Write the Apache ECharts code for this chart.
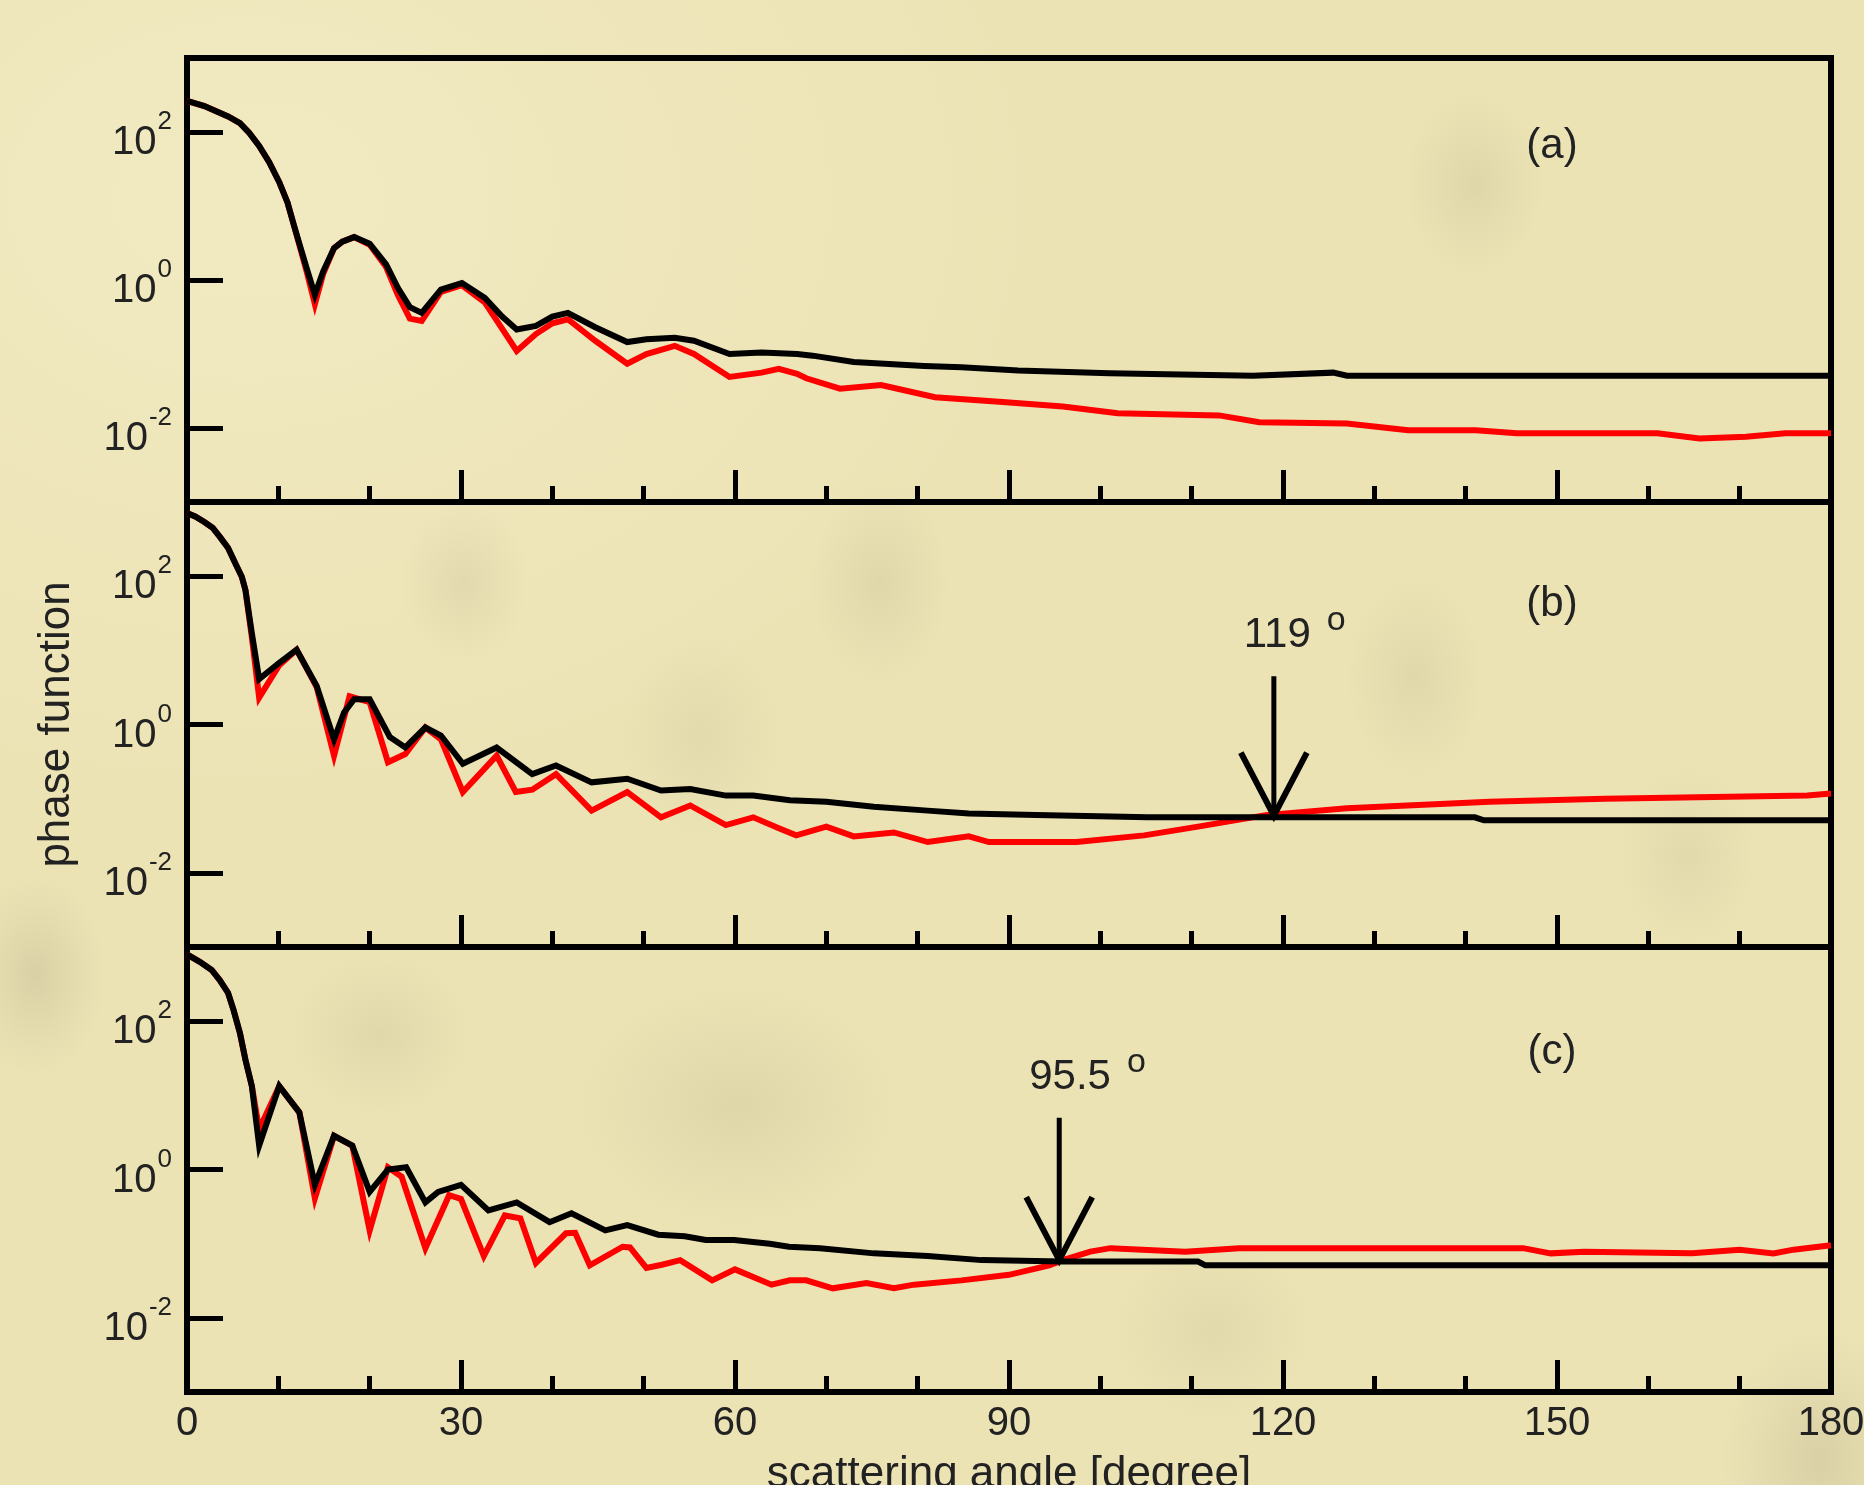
<!DOCTYPE html>
<html>
<head>
<meta charset="utf-8">
<script src="https://cdn.jsdelivr.net/npm/echarts@6/dist/echarts.min.js"></script>
<style>
html,body{margin:0;padding:0;overflow:hidden;}
#chart{
  width:1864px;height:1485px;
  background:
    radial-gradient(ellipse 70px 90px at 1474px 184px, rgba(160,155,115,0.18), rgba(160,155,115,0) 100%),
    radial-gradient(ellipse 70px 100px at 880px 583px, rgba(160,155,115,0.17), rgba(160,155,115,0) 100%),
    radial-gradient(ellipse 65px 80px at 464px 583px, rgba(160,155,115,0.15), rgba(160,155,115,0) 100%),
    radial-gradient(ellipse 80px 100px at 701px 737px, rgba(160,155,115,0.13), rgba(160,155,115,0) 100%),
    radial-gradient(ellipse 70px 100px at 1415px 678px, rgba(160,155,115,0.16), rgba(160,155,115,0) 100%),
    radial-gradient(ellipse 70px 90px at 1688px 856px, rgba(160,155,115,0.14), rgba(160,155,115,0) 100%),
    radial-gradient(ellipse 70px 100px at 36px 975px, rgba(150,145,110,0.22), rgba(150,145,110,0) 100%),
    radial-gradient(ellipse 90px 80px at 380px 1034px, rgba(160,155,115,0.16), rgba(160,155,115,0) 100%),
    radial-gradient(ellipse 160px 120px at 737px 1106px, rgba(160,155,115,0.18), rgba(160,155,115,0) 100%),
    radial-gradient(ellipse 100px 90px at 1213px 1331px, rgba(160,155,115,0.14), rgba(160,155,115,0) 100%),
    radial-gradient(ellipse 100px 130px at 1820px 1460px, rgba(150,145,110,0.22), rgba(150,145,110,0) 100%),
    radial-gradient(ellipse 800px 600px at 250px 200px, rgba(248,242,208,0.45), rgba(248,242,208,0) 100%),
    #ece3b5;
}
</style>
</head>
<body>
<div id="chart"></div>
<script>
// ---------- data (scattering angle [deg], phase function) ----------
const panelA_black = [[0,263],[1.9,224],[3.2,191],[4.5,162],[5.8,132],[6.8,98],[7.9,65],[9.0,39],[10.1,21],[11.0,11.2],[11.8,5.0],[13.1,1.45],[14.0,0.63],[14.9,1.3],[16.1,2.7],[17.0,3.3],[18.3,3.8],[20.0,3.1],[21.8,1.62],[23.1,0.78],[24.4,0.43],[25.7,0.36],[27.8,0.74],[30.1,0.91],[32.6,0.575],[34.5,0.32],[36.1,0.214],[38.2,0.24],[40,0.32],[41.7,0.36],[44.7,0.23],[48.2,0.145],[50.3,0.158],[53.4,0.166],[55.5,0.151],[59.4,0.100],[62.9,0.105],[66.8,0.100],[68.5,0.095],[73,0.078],[80.7,0.069],[84.8,0.066],[91,0.060],[101,0.055],[116.7,0.051],[125.5,0.056],[127,0.051],[180,0.051]];
const panelA_red = [[0,263],[1.9,224],[3.2,191],[4.5,162],[5.8,132],[6.8,98],[7.9,65],[9.0,39],[10.1,21],[11.0,11.2],[11.8,5.0],[13.1,1.3],[14.0,0.47],[14.9,1.2],[16.1,2.7],[17.0,3.3],[18.3,3.8],[20.0,3.0],[21.8,1.5],[23.1,0.62],[24.4,0.30],[25.7,0.28],[27.8,0.69],[30.1,0.85],[32.6,0.50],[34.5,0.22],[36.1,0.11],[38.2,0.186],[40,0.26],[41.7,0.295],[44.7,0.151],[48.2,0.074],[50.3,0.10],[53.4,0.129],[55.5,0.10],[59.4,0.049],[62.9,0.056],[64.8,0.063],[66.8,0.054],[67.8,0.047],[71.5,0.034],[76,0.038],[81.9,0.026],[89.3,0.0224],[95.9,0.0195],[101.9,0.0158],[113,0.0148],[117.4,0.012],[127,0.0115],[133.7,0.0093],[141.1,0.0093],[145.6,0.0085],[161,0.0085],[165.6,0.0072],[170.7,0.0076],[175,0.0085],[180,0.0085]];

const panelB_black = [[0,708],[0.9,640],[1.9,537],[2.8,450],[3.6,339],[4.5,240],[5.3,148],[6.0,98],[6.4,65],[7.1,17],[7.9,4.1],[10.1,6.8],[12.0,10.2],[14.2,3.3],[16.1,0.63],[17.2,1.45],[18.3,2.19],[20.0,2.19],[22.2,0.68],[23.9,0.49],[26.1,0.91],[27.8,0.71],[30.2,0.295],[33.9,0.49],[37.8,0.214],[40.4,0.28],[44.3,0.166],[48.2,0.186],[51.9,0.129],[55.1,0.135],[59,0.110],[62,0.110],[66,0.095],[70,0.091],[75.2,0.078],[81.1,0.069],[85.6,0.063],[93,0.060],[105.2,0.056],[141,0.056],[142,0.051],[180,0.051]];
const panelB_red = [[0,708],[0.9,640],[1.9,537],[2.8,450],[3.6,339],[4.5,240],[5.3,148],[6.0,98],[6.4,65],[7.1,15],[7.9,2.3],[10.1,6.3],[12.0,10.2],[14.2,3.2],[16.1,0.38],[17.8,2.4],[20.0,2.0],[22.0,0.31],[23.9,0.40],[26.1,0.91],[27.8,0.63],[30.2,0.123],[33.9,0.38],[36.0,0.123],[37.8,0.132],[40.4,0.214],[44.3,0.069],[48.2,0.123],[51.9,0.056],[55.1,0.081],[59,0.044],[62,0.056],[64.8,0.040],[66.7,0.032],[70,0.042],[73,0.031],[77.4,0.035],[81.1,0.026],[85.6,0.031],[87.8,0.026],[97.4,0.026],[104.8,0.032],[110.7,0.042],[118.1,0.060],[127,0.074],[142.6,0.091],[155.2,0.100],[177.4,0.110],[180,0.117]];

const panelC_black = [[0,794],[1.4,630],[2.7,490],[3.6,355],[4.5,240],[5.1,141],[5.8,69],[6.4,30],[7.1,13.3],[7.9,2.1],[10.1,13.3],[12.3,5.9],[14.0,0.62],[16.1,2.85],[18.1,2.1],[20.0,0.50],[22.0,1.0],[24.0,1.07],[26.1,0.36],[27.5,0.50],[30,0.62],[33.0,0.28],[36.1,0.36],[39.7,0.195],[42.1,0.257],[45.8,0.151],[48.2,0.178],[51.6,0.132],[54.5,0.126],[56.8,0.112],[59.9,0.112],[63.8,0.100],[65.9,0.091],[69.3,0.087],[75.2,0.074],[81.1,0.068],[87,0.060],[95.9,0.0575],[110.7,0.0575],[111.5,0.051],[180,0.051]];
const panelC_red = [[0,794],[1.4,630],[2.7,490],[3.6,355],[4.5,240],[5.1,141],[5.8,69],[6.4,30],[7.1,13.3],[7.9,3.5],[10.1,13.3],[12.3,5.9],[14.0,0.41],[16.1,2.85],[18.1,2.1],[20.0,0.151],[22.0,1.07],[23.5,0.8],[26.1,0.087],[28.7,0.45],[30,0.40],[32.5,0.068],[34.8,0.24],[36.5,0.22],[38.2,0.055],[41.5,0.138],[42.5,0.14],[44.1,0.051],[47.7,0.091],[48.5,0.089],[50.3,0.047],[52,0.052],[54,0.060],[57.5,0.032],[60,0.045],[64,0.028],[66,0.032],[67.8,0.032],[70.7,0.025],[74.4,0.0295],[77.4,0.025],[79.6,0.028],[84.8,0.032],[90,0.038],[94.4,0.051],[95.9,0.060],[98.9,0.078],[101.1,0.087],[109.3,0.078],[115.2,0.087],[146.3,0.087],[149.3,0.074],[153,0.078],[164.8,0.074],[170,0.083],[173.7,0.074],[175.9,0.083],[180,0.095]];

// arrows: angle, value at arrow tip, value at arrow tail, label
const arrowAngles = [119, 95.5];
const arrowTipValues = [0.059, 0.060];
const arrowTailValues = [4.47, 5.0];
const arrowLabels = ['119', '95.5'];

const xTickLabels = [0, 30, 60, 90, 120, 150, 180];
const yTickValues = [0.01, 1, 100];
const panelLabels = ['(a)', '(b)', '(c)'];

// ---------- chart ----------
const FONT = '"Liberation Sans", Arial, Helvetica, sans-serif';
const TXT = '#222';
const gridTops = [58, 502, 947];
const gridHeights = [444, 445, 445];

const grids = gridTops.map((t, i) => ({
  left: 187, right: 33, top: t, height: gridHeights[i],
  show: true, borderColor: '#000', borderWidth: 6, backgroundColor: 'transparent',
  containLabel: false, outerBoundsMode: 'none'
}));

const xAxes = [0, 1, 2].map(i => ({
  type: 'value', gridIndex: i, min: 0, max: 180, interval: 30,
  axisLine: { show: false },
  axisTick: { show: true, inside: true, length: 32, lineStyle: { color: '#000', width: 5 } },
  minorTick: { show: true, splitNumber: 3, length: 16, lineStyle: { color: '#000', width: 5 } },
  splitLine: { show: false }, minorSplitLine: { show: false },
  axisLabel: {
    show: i === 2, margin: 12, fontSize: 40, fontFamily: FONT, color: TXT,
    showMinLabel: true, showMaxLabel: true,
    customValues: xTickLabels
  },
  name: i === 2 ? 'scattering angle [degree]' : '',
  nameLocation: 'middle', nameGap: 61,
  nameTextStyle: { fontSize: 44, fontFamily: FONT, color: TXT }
}));

const yAxes = [0, 1, 2].map(i => ({
  type: 'log', logBase: 10, gridIndex: i, min: 0.001, max: 1000,
  axisLine: { show: false },
  axisTick: { show: true, inside: true, length: 36, customValues: yTickValues, lineStyle: { color: '#000', width: 5 } },
  minorTick: { show: false },
  splitLine: { show: false },
  axisLabel: {
    show: true, margin: 15, customValues: yTickValues, color: TXT, fontFamily: FONT,
    formatter: v => '{b|10}{s|' + Math.round(Math.log10(v)) + '}',
    rich: {
      b: { fontSize: 40, fontFamily: FONT, color: TXT, padding: [22, 0, 0, 0] },
      s: { fontSize: 26, fontFamily: FONT, color: TXT, verticalAlign: 'top', padding: [8, 0, 0, 1] }
    }
  },
  name: i === 1 ? 'phase function' : '',
  nameLocation: 'middle', nameGap: 108, nameRotate: 90,
  nameTextStyle: { fontSize: 44, fontFamily: FONT, color: TXT }
}));

function lineSeries(data, color, gi) {
  return {
    type: 'line', xAxisIndex: gi, yAxisIndex: gi, data: data,
    showSymbol: false, symbol: 'none', animation: false,
    lineStyle: { color: color, width: 6, join: 'miter' }
  };
}

function arrowSeries(k, gi) {
  return {
    type: 'custom', xAxisIndex: gi, yAxisIndex: gi, animation: false, z: 10,
    data: [[arrowAngles[k], arrowTipValues[k], arrowTailValues[k]]],
    encode: { x: 0, y: 1 },
    renderItem: function (params, api) {
      const tip = api.coord([api.value(0), api.value(1)]);
      const tail = api.coord([api.value(0), api.value(2)]);
      const x = tip[0];
      return {
        type: 'group',
        children: [
          { type: 'line', shape: { x1: x, y1: tail[1], x2: x, y2: tip[1] - 3 }, style: { stroke: '#000', lineWidth: 5 } },
          { type: 'polyline', shape: { points: [[x - 33, tip[1] - 63], [x, tip[1]], [x + 33, tip[1] - 63]] },
            style: { stroke: '#000', fill: null, lineWidth: 6, lineJoin: 'miter' } },
          { type: 'text', x: x - 30, y: tail[1] - 46,
            style: {
              text: '{n|' + arrowLabels[k] + '}{o|o}', align: 'left', verticalAlign: 'middle', fill: TXT,
              rich: {
                n: { fontSize: 42, fontFamily: FONT, fill: TXT, padding: [11, 0, 0, 0] },
                o: { fontSize: 34, fontFamily: FONT, fill: TXT, verticalAlign: 'top', padding: [0, 0, 0, 16] }
              }
            } }
        ]
      };
    }
  };
}

const option = {
  backgroundColor: 'transparent',
  animation: false,
  grid: grids,
  xAxis: xAxes,
  yAxis: yAxes,
  graphic: [
    { type: 'text', x: 1552, y: 146, style: { text: panelLabels[0], fontSize: 42, fontFamily: FONT, fill: TXT, align: 'center', verticalAlign: 'middle' } },
    { type: 'text', x: 1552, y: 604, style: { text: panelLabels[1], fontSize: 42, fontFamily: FONT, fill: TXT, align: 'center', verticalAlign: 'middle' } },
    { type: 'text', x: 1552, y: 1052, style: { text: panelLabels[2], fontSize: 42, fontFamily: FONT, fill: TXT, align: 'center', verticalAlign: 'middle' } }
  ],
  series: [
    lineSeries(panelA_red, '#ff0000', 0),
    lineSeries(panelA_black, '#000000', 0),
    lineSeries(panelB_red, '#ff0000', 1),
    lineSeries(panelB_black, '#000000', 1),
    lineSeries(panelC_red, '#ff0000', 2),
    lineSeries(panelC_black, '#000000', 2),
    arrowSeries(0, 1),
    arrowSeries(1, 2)
  ]
};

const chart = echarts.init(document.getElementById('chart'), null, { renderer: 'canvas', width: 1864, height: 1485 });
chart.setOption(option);
</script>
</body>
</html>
